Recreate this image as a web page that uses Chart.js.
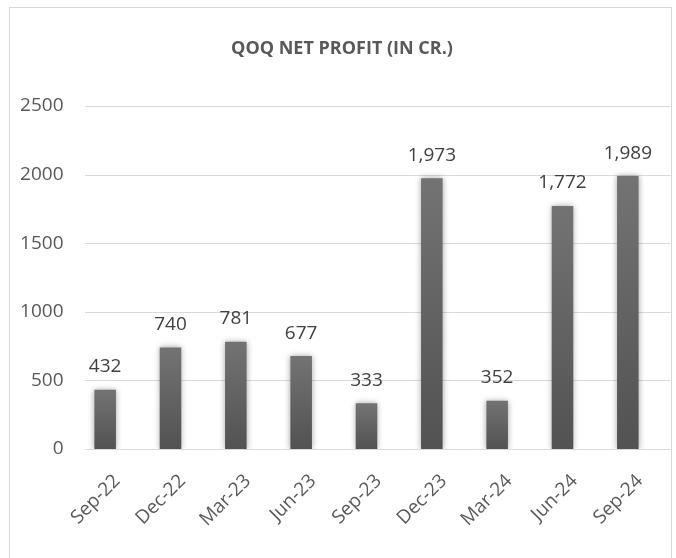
<!DOCTYPE html>
<html><head><meta charset="utf-8">
<script src="https://cdn.jsdelivr.net/npm/chart.js@4.4.1/dist/chart.umd.min.js"></script>
<style>
html,body{margin:0;padding:0;background:#fff;overflow:hidden}
#wrap{position:relative;width:676px;height:558px;background:#fff}
#frame{position:absolute;left:9px;top:7px;width:663px;height:560px;border:1px solid #d9d9d9;box-sizing:border-box;pointer-events:none}
canvas{display:block}
</style></head><body>
<div id="wrap"><canvas id="c" width="676" height="558"></canvas><div id="frame"></div></div>
<script>
const chartTitle = 'QOQ NET PROFIT (IN CR.)';
const categories = ['Sep-22','Dec-22','Mar-23','Jun-23','Sep-23','Dec-23','Mar-24','Jun-24','Sep-24'];
const netProfit = [432, 740, 781, 677, 333, 1973, 352, 1772, 1989];
const yTickValues = [0, 500, 1000, 1500, 2000, 2500];

const FONT = "'Open Sans', 'Noto Sans', sans-serif";
const fmt = v => v.toLocaleString('en-US');

const decor = {
  id: 'decor',
  beforeDatasetsDraw(chart) {
    const {ctx, chartArea, scales} = chart;
    ctx.save();
    ctx.strokeStyle = '#d9d9d9';
    ctx.lineWidth = 1.2;
    yTickValues.forEach(v => {
      const y = Math.round(scales.y.getPixelForValue(v)) + 0.5;
      ctx.beginPath();
      ctx.moveTo(chartArea.left + 12.5, y);
      ctx.lineTo(chartArea.right + 10, y);
      ctx.stroke();
    });
    ctx.restore();
    ctx.save();
    ctx.shadowColor = 'rgba(0,0,0,0.35)';
    ctx.shadowBlur = 6;
  },
  afterDatasetsDraw(chart) {
    const {ctx} = chart;
    ctx.restore();
    const meta = chart.getDatasetMeta(0);
    ctx.save();
    ctx.font = '19px ' + FONT;
    ctx.fillStyle = '#404040';
    ctx.textAlign = 'center';
    ctx.textBaseline = 'alphabetic';
    meta.data.forEach((bar, i) => {
      ctx.fillText(fmt(netProfit[i]), bar.x, bar.y - 17.5);
    });
    ctx.restore();
  },
  afterDraw(chart) {
    const {ctx, scales} = chart;
    ctx.save();
    ctx.font = '19px ' + FONT;
    ctx.fillStyle = '#595959';
    ctx.textAlign = 'right';
    ctx.textBaseline = 'middle';
    const y0 = scales.y.getPixelForValue(0) + 29;
    categories.forEach((c, i) => {
      const x = scales.x.getPixelForValue(i) + 12;
      ctx.save();
      ctx.translate(x, y0);
      ctx.rotate(-Math.PI / 4);
      ctx.fillText(c, 0, 0);
      ctx.restore();
    });
    ctx.font = 'bold 18px ' + FONT;
    ctx.textAlign = 'center';
    ctx.textBaseline = 'alphabetic';
    ctx.fillText(chartTitle, 342, 54);
    ctx.restore();
  }
};

new Chart(document.getElementById('c'), {
  type: 'bar',
  data: {
    labels: categories,
    datasets: [{
      data: netProfit,
      backgroundColor: (c) => {
        const chart = c.chart;
        if (!chart.chartArea || c.raw === undefined) return '#606060';
        const top = chart.scales.y.getPixelForValue(c.raw);
        const bot = chart.scales.y.getPixelForValue(0);
        const g = chart.ctx.createLinearGradient(0, top, 0, bot);
        g.addColorStop(0, '#737373');
        g.addColorStop(1, '#525252');
        return g;
      },
      borderWidth: 0,
      categoryPercentage: 1,
      barPercentage: 0.33
    }]
  },
  options: {
    responsive: false,
    animation: false,
    devicePixelRatio: 1,
    layout: { padding: { top: 106, bottom: 109, left: 0, right: 15.5 } },
    plugins: { legend: { display: false }, title: { display: false }, tooltip: { enabled: false } },
    scales: {
      x: { display: false, offset: true },
      y: {
        min: 0, max: 2500,
        afterFit: s => { s.width = 72.5; },
        grid: { display: false, drawTicks: false },
        border: { display: false },
        ticks: {
          stepSize: 500,
          padding: 9,
          color: '#595959',
          font: { family: FONT, size: 19 },
          callback: v => String(v)
        }
      }
    }
  },
  plugins: [decor]
});
</script>
</body></html>
